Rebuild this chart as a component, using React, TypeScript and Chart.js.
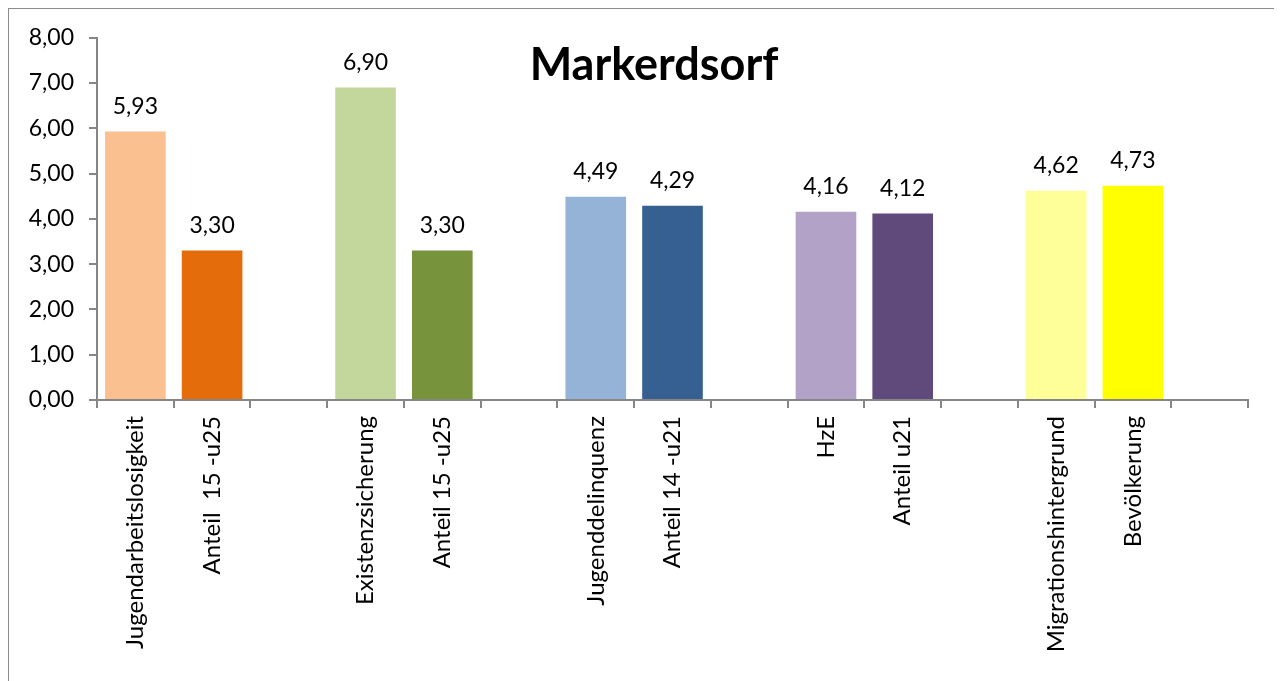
import React, { useEffect, useRef } from "react";
import { Chart, registerables } from "chart.js";

Chart.register(...registerables);

const categories: string[] = [
  "Jugendarbeitslosigkeit",
  "Anteil  15 -u25",
  "",
  "Existenzsicherung",
  "Anteil 15 -u25",
  "",
  "Jugenddelinquenz",
  "Anteil 14 -u21",
  "",
  "HzE",
  "Anteil u21",
  "",
  "Migrationshintergrund",
  "Bevölkerung",
  "",
];

const values: (number | null)[] = [
  5.93, 3.3, null, 6.9, 3.3, null, 4.49, 4.29, null, 4.16, 4.12, null, 4.62, 4.73, null,
];

const barColors: string[] = [
  "#FAC090", "#E46C0A", "#FFFFFF",
  "#C3D69B", "#77933C", "#FFFFFF",
  "#95B3D7", "#366092", "#FFFFFF",
  "#B3A2C7", "#604A7B", "#FFFFFF",
  "#FFFF99", "#FFFF00", "#FFFFFF",
];

const yTicks: number[] = [0, 1, 2, 3, 4, 5, 6, 7, 8];

const chartTitle = "Markerdsorf";

const FONT = "Lato, 'Open Sans', sans-serif";
const fmt = (v: number) => v.toFixed(2).replace(".", ",");

const CW = 1267;
const CH = 672;

export default function App() {
  const ref = useRef<HTMLCanvasElement | null>(null);

  useEffect(() => {
    if (!ref.current) return;
    const labelPlugin = {
      id: "labelsAndTitle",
      afterDatasetsDraw(chart: any) {
        const ctx = chart.ctx;
        const meta = chart.getDatasetMeta(0);
        ctx.save();
        ctx.fillStyle = "#000";
        ctx.font = `23px ${FONT}`;
        ctx.textAlign = "center";
        ctx.textBaseline = "middle";
        meta.data.forEach((el: any, i: number) => {
          const v = values[i];
          if (v === null || v === undefined) return;
          ctx.fillText(fmt(v), el.x, el.y - 25);
        });
        ctx.font = `bold 45px ${FONT}`;
        ctx.fillText(chartTitle, 645, 56);
        ctx.restore();
      },
    };

    const chart = new Chart(ref.current, {
      type: "bar",
      data: {
        labels: categories,
        datasets: [
          {
            data: values as any,
            backgroundColor: barColors,
            borderWidth: 0,
            barPercentage: 0.79,
            categoryPercentage: 1,
          },
        ],
      },
      options: {
        responsive: false,
        animation: false,
        layout: { padding: { left: 0, right: 28, top: 28, bottom: 0 } },
        plugins: {
          legend: { display: false },
          tooltip: { enabled: false },
          title: { display: false },
        },
        scales: {
          x: {
            offset: true,
            grid: {
              offset: true,
              drawOnChartArea: false,
              drawTicks: true,
              tickLength: 8,
              color: "#868686",
              lineWidth: 2,
            },
            border: { color: "#868686", width: 2 },
            ticks: {
              autoSkip: false,
              maxRotation: 90,
              minRotation: 90,
              padding: 8,
              color: "#000",
              font: { family: FONT, size: 24 },
            },
            afterFit(scale: any) {
              scale.height = CH - 28 - 363;
            },
          },
          y: {
            min: 0,
            max: 8,
            afterBuildTicks(scale: any) {
              scale.ticks = yTicks.map((v) => ({ value: v }));
            },
            grid: {
              drawOnChartArea: false,
              drawTicks: true,
              tickLength: 8,
              color: "#868686",
              lineWidth: 2,
            },
            border: { color: "#868686", width: 2 },
            ticks: {
              padding: 15,
              color: "#000",
              font: { family: FONT, size: 23 },
              callback: (v: any) => fmt(Number(v)),
            },
            afterFit(scale: any) {
              scale.width = 88;
            },
          },
        },
      },
      plugins: [labelPlugin],
    });
    return () => chart.destroy();
  }, []);

  return (
    <div
      style={{
        width: 1269,
        height: 700,
        border: "1px solid #8c8c8c",
        boxSizing: "border-box",
        background: "#fff",
      }}
    >
      <canvas ref={ref} width={CW} height={CH} style={{ display: "block" }} />
    </div>
  );
}
